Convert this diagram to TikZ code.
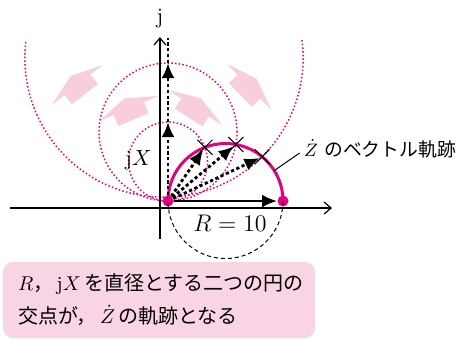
\documentclass[tikz,border=0pt]{standalone}
\usepackage{fontspec}
\newfontfamily\jpfont{Noto Sans CJK JP}
\usetikzlibrary{arrows.meta,positioning,shapes.misc}
\definecolor{rubine}{RGB}{228,0,127}
\definecolor{blush}{RGB}{248,206,223}
\definecolor{notepink}{RGB}{249,212,228}

\begin{document}
\begin{tikzpicture}[
  x=5.75pt, y=5.75pt,
  axis/.style={line width=0.6pt, -{Straight Barb[length=3.5pt,width=6pt]}},
  trace/.style={rubine, line width=0.75pt, dash pattern=on 0.75pt off 1.1pt},
  guide/.style={black, line width=0.5pt, dash pattern=on 2pt off 1.5pt},
  locus/.style={rubine, line width=1.5pt},
  vec/.style={line width=1.4pt, -{Latex[length=7.5pt,width=6.5pt]}},
  vecd/.style={vec, dash pattern=on 1.6pt off 1.3pt},
  endpt/.style={circle, fill=rubine, inner sep=0pt, minimum size=5.5pt},
  isect/.style={cross out, draw=black, line width=0.5pt, inner sep=0pt, minimum size=7pt},
  lbl/.style={inner sep=1pt, font=\fontsize{11}{13}\selectfont},
  notebox/.style={rectangle, rounded corners=5pt, fill=notepink, text width=141pt,
                  inner xsep=7.5pt, minimum height=38pt, align=left,
                  font=\fontsize{10}{16.5}\selectfont\jpfont},
  spread/.pic={\fill[blush] (0,2.8) -- (0.96,0) -- (0,-2.8) -- (0,-1.43)
                 -- (-1.04,-1.43) -- (-1.04,1.43) -- (0,1.43) -- cycle;},
]
\useasboundingbox (-14.61,-12) rectangle (25.39,17.48);

% ------------------------------------------------------- growing arrows --
\pic[rotate=128] at (-7.87,10.11) {spread};
\pic[rotate=113] at (-3.41,8.04)  {spread};
\pic[rotate=44]  at (7.04,9.94)   {spread};
\pic[rotate=57]  at (2.35,8.13)   {spread};

% ------------------------------------------------------ circles over jX --
\draw[trace] (0,3.435) circle[radius=3.435];
\draw[trace] (0,6) circle[radius=6];
\draw[trace] ([shift={(7.45:12.1)}]-0.35,12.43) arc[start angle=7.45, end angle=-187.45, radius=12.1];

% ----------------------------------------------------------------- axes --
\coordinate (xl) at (-13.74,-0.61);
\coordinate (xr) at (14.26,-0.61);
\coordinate (yb) at (-0.7,-3.3);
\coordinate (yt) at (-0.7,14.25);
\draw[axis] (xl) -- (xr);
\draw[axis] (yb) -- (yt);
\node[lbl] (jaxis) at (-0.7,15.9) {j};

% ------------------------------------------------------ circle over R --
\node[endpt] (O) at (0,0) {};
\node[endpt] (P) at (10,0) {};
\coordinate (C) at (5,0);
\draw[guide] (P.center) arc[start angle=0, end angle=-180, radius=5];
\draw[locus] (P.center) arc[start angle=0, end angle=180, radius=5];

% -------------------------------------------------------------- vectors --
\coordinate (X1) at (0,6.87);
\coordinate (X2) at (0,12);
\coordinate (X3) at (0,14.2);
\draw[vecd] (O) -- (X1);
\draw[vecd] (X1) -- (X2);
\draw[line width=1.4pt, dash pattern=on 1.6pt off 1.3pt] (X2) -- (X3);
\draw[vec] (O) -- (P);

\node[isect] (Z1) at (3.21,4.67) {};
\node[isect] (Z2) at (5.90,4.92) {};
\node[isect] (Z3) at (8.19,3.85) {};
\draw[vecd, shorten >=1.5pt] (O) -- (Z1.center);
\draw[vecd, shorten >=1.5pt] (O) -- (Z2.center);
\draw[vecd, shorten >=1.5pt] (O) -- (Z3.center);

% --------------------------------------------------------------- labels --
\node[lbl, anchor=east] (jx) at (-1.2,3.57) {$\mathrm{j}X$};
\node[lbl, font=\fontsize{11.5}{13}\selectfont] (rlab) at (5.39,-1.96) {$R = 10$};

\coordinate (lead) at (11.45,4.18);
\draw[line width=0.5pt] ([shift={(32:5)}]C) -- (lead);
\node[anchor=west, inner sep=0pt, font=\fontsize{9.4}{11}\selectfont] (zlab)
  at ([shift={(0.35,0.35)}]lead) {$\dot{Z}$\,\,{\jpfont のベクトル軌跡}};

% ----------------------------------------------------------------- note --
\node[notebox] (note) at (-0.78,-8.61)
  {$R$，\,$\mathrm{j}X$\,を直径とする二つの円の\\交点が，\,$\dot{Z}$\,の軌跡となる};

\end{tikzpicture}
\end{document}
